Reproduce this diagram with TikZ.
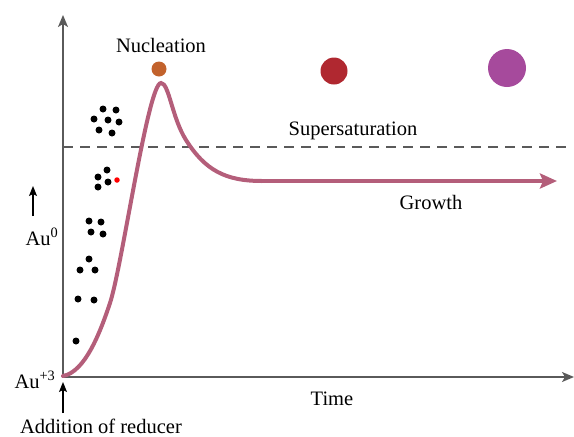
\documentclass[tikz,border=0pt]{standalone}
\usepackage{fontspec}
\setmainfont{Liberation Serif}
\usetikzlibrary{arrows.meta}

\definecolor{curvecol}{RGB}{180,94,122}
\definecolor{axiscol}{RGB}{90,90,90}
\definecolor{nuclcol}{RGB}{194,98,44}
\definecolor{redcol}{RGB}{176,40,48}
\definecolor{purpcol}{RGB}{166,74,156}

\tikzset{
  axis/.style={draw=axiscol, line width=1.6pt, -{Stealth[length=12pt,width=10pt,inset=3pt]}},
  lab/.style={font=\fontsize{20.5}{24}\selectfont, inner sep=0pt},
  atom/.style={fill=black, circle, inner sep=0pt, minimum size=7pt},
  smallarrow/.style={draw=black, line width=1.2pt, -{Stealth[length=10pt,width=8pt,inset=2pt]}}
}

\begin{document}
\begin{tikzpicture}[x=1pt, y=-1pt]
\useasboundingbox (0,0) rectangle (574,437);
% Axes
\coordinate (origin) at (63,377);
\coordinate (ytop) at (63,15);
\coordinate (xend) at (574,377);
\draw[axis] (origin) -- (ytop);
\draw[axis] (origin) -- (xend);
% Supersaturation level
\coordinate (ssleft) at (63,147);
\coordinate (ssright) at (567,147);
\draw[axiscol, line width=1.4pt, dash pattern=on 10pt off 7pt] (ssleft) -- (ssright);
% Concentration curve
\coordinate (peak) at (161,83);
\coordinate (plateau) at (262,181);
\coordinate (tip) at (557,181);
\draw[curvecol, line width=4pt, line cap=round]
  (63,376) .. controls (85,372) and (100,333) .. (110,303)
  .. controls (122,267) and (148,83) .. (peak)
  .. controls (169,83) and (172,118) .. (186,140)
  .. controls (205,170) and (225,181) .. (plateau);
\draw[curvecol, line width=4pt, -{Stealth[length=17pt,width=15pt,inset=3pt]}] (plateau) -- (tip);
% Particles
\fill[nuclcol] (159,69) circle (7.5pt);
\fill[redcol] (334,71) circle (13.5pt);
\fill[purpcol] (507,68) circle (19pt);
% Atoms
\foreach \x/\y [count=\i] in {103/109, 116/110, 94/119, 108/120, 119/122, 99/130, 112/133,
    107/170, 98/177, 108/182, 98/187,
    89/221, 101/222, 91/232, 103/234,
    89/259, 80/270, 95/270, 78/299, 94/300, 76/341}
  \node[atom] (atom\i) at (\x,\y) {};
\node[fill=red, circle, inner sep=0pt, minimum size=5.5pt] (redatom) at (117,180) {};
% Labels
\node[lab] (nucl) at (161,45) {Nucleation};
\node[lab] (super) at (353,131) {Supersaturation};
\node[lab] (growth) at (431,202) {Growth};
\node[lab] (time) at (332,399) {Time};
\node[lab] (au0) at (42,237) {Au\textsuperscript{0}};
\node[lab] (au3) at (35,380) {Au\textsuperscript{+3}};
\node[lab] (reducer) at (101,426) {Addition of reducer};
% Small arrows
\coordinate (au0base) at (33,216);
\coordinate (au0tip) at (33,186);
\draw[smallarrow] (au0base) -- (au0tip);
\coordinate (redbase) at (63,413);
\coordinate (redtip) at (63,382);
\draw[smallarrow] (redbase) -- (redtip);
\end{tikzpicture}
\end{document}
